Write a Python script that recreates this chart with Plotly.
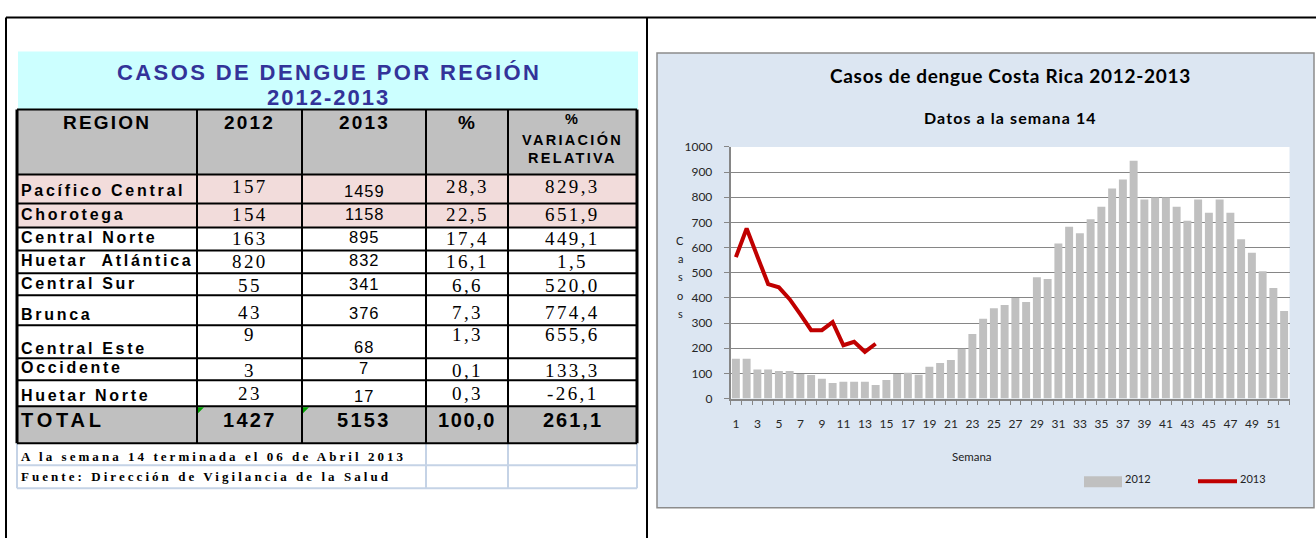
import plotly.graph_objects as go

W, H = 1316, 538

# ---------------- data ----------------
table_title_1 = "CASOS DE DENGUE POR REGIÓN"
table_title_2 = "2012-2013"
header_cols = ["REGION", "2012", "2013", "%"]
header_var = ["%", "VARIACIÓN", "RELATIVA"]
regiones = ["Pacífico Central", "Chorotega", "Central Norte", "Huetar  Atlántica",
            "Central Sur", "Brunca", "Central Este", "Occidente", "Huetar Norte"]
casos_2012_region = [157, 154, 163, 820, 55, 43, 9, 3, 23]
casos_2013_region = [1459, 1158, 895, 832, 341, 376, 68, 7, 17]
porcentaje = [28.3, 22.5, 17.4, 16.1, 6.6, 7.3, 1.3, 0.1, 0.3]
variacion = [829.3, 651.9, 449.1, 1.5, 520.0, 774.4, 655.6, 133.3, -26.1]
total_label = "TOTAL"
total_2012 = 1427
total_2013 = 5153
total_pct = 100.0
total_var = 261.1
footer_lines = ["A la semana 14 terminada el 06 de Abril 2013",
                "Fuente: Dirección de Vigilancia de la Salud"]

chart_title = "Casos de dengue Costa Rica 2012-2013"
chart_subtitle = "Datos a la semana 14"
y_title = "Casos"
x_title = "Semana"
semanas = list(range(1, 53))
casos_2012_semana = [158, 158, 116, 116, 110, 110, 98, 94, 79, 62,
                     67, 67, 67, 54, 74, 98, 103, 95, 127, 141,
                     153, 198, 257, 317, 359, 372, 400, 384, 482, 475,
                     616, 683, 657, 713, 762, 835, 871, 945, 791, 799,
                     799, 762, 707, 791, 738, 791, 738, 633, 580, 506,
                     439, 348]
semanas_2013 = list(range(1, 15))
casos_2013_semana = [562, 676, 565, 455, 442, 395, 335, 272, 272, 304,
                     212, 226, 186, 218]
x_tick_vals = list(range(1, 52, 2))
series_names = ["2012", "2013"]

# ---------------- layout helpers (pixel -> paper) ----------------
def fx(px):
    return px / W


def fy(py):
    # vertical pixel target -> paper fraction (with calibration of the rendered page)
    p = (py - 7.5) / 0.9726
    return 1 - p / H


shapes = []
annotations = []


def rect(x0, y0, x1, y1, fill, line_color=None, lw=0, layer="below"):
    shapes.append(dict(type="rect", xref="paper", yref="paper",
                       x0=fx(x0), x1=fx(x1), y0=fy(y1), y1=fy(y0),
                       fillcolor=fill,
                       line=dict(color=line_color or fill, width=lw),
                       layer=layer))


def seg(x0, y0, x1, y1, color, lw, layer="above"):
    shapes.append(dict(type="line", xref="paper", yref="paper",
                       x0=fx(x0), x1=fx(x1), y0=fy(y0), y1=fy(y1),
                       line=dict(color=color, width=lw), layer=layer))


def txt(x, y, s, size, family="Liberation Sans", color="black", weight="normal",
        xanchor="center", yanchor="middle", ls=0):
    if ls:
        s = f'<span style="letter-spacing:{ls}px">{s}</span>'
    annotations.append(dict(xref="paper", yref="paper", x=fx(x), y=fy(y), text=s,
                            showarrow=False, xanchor=xanchor, yanchor=yanchor,
                            borderpad=0,
                            font=dict(size=size, family=family, color=color,
                                      weight=weight)))


def fmt1(v):
    return f"{v:.1f}".replace(".", ",")


SANS = "Liberation Sans"
SERIF = "Liberation Serif"
CAL = "Lato"

# ---------------- outer frame ----------------
seg(6, 17, 1316, 17, "black", 2)
seg(6, 17, 6, 545, "black", 2)
seg(647, 17, 647, 545, "black", 2)

# ---------------- table ----------------
COL = [17, 197, 302, 426, 508, 637]
ROW = [174, 203, 227, 250, 273, 295, 325, 358, 380, 406]
HEAD = (109, 174)
TOT = (406, 443)
FOOT = [443, 465, 488]

rect(18, 51, 638, HEAD[0], "#ccffff")
rect(COL[0], HEAD[0], COL[-1], HEAD[1], "#c0c0c0")
for i in range(2):
    rect(COL[0], ROW[i], COL[-1], ROW[i + 1], "#f2dcdb")
rect(COL[0], TOT[0], COL[-1], TOT[1], "#c0c0c0")

# footer cells
for yv in FOOT[1:]:
    seg(COL[0], yv, COL[-1], yv, "#c5d3e6", 2)
for xv in [COL[0], COL[3], COL[4], COL[5]]:
    seg(xv, FOOT[0], xv, FOOT[-1], "#c5d3e6", 2)

# black grid
for yv in [HEAD[0]] + ROW + [TOT[1]]:
    seg(COL[0], yv, COL[-1], yv, "black", 2)
for xv in COL:
    seg(xv, HEAD[0], xv, TOT[1], "black", 3 if xv in (COL[0], COL[-1]) else 2)

# green error markers in TOTAL row
for xv in (COL[1], COL[2]):
    shapes.append(dict(type="path", xref="paper", yref="paper",
                       path=f"M {fx(xv + 1)},{fy(TOT[0] + 1)} L {fx(xv + 7)},{fy(TOT[0] + 1)} L {fx(xv + 1)},{fy(TOT[0] + 7)} Z",
                       fillcolor="#00a000", line=dict(width=0), layer="above"))

# title
txt(329, 72, table_title_1, 22, SANS, "#333399", "bold", ls=2.4)
txt(328, 97, table_title_2, 22, SANS, "#333399", "bold", ls=2.0)

# header
for j, h in enumerate(header_cols):
    cx = (COL[j] + COL[j + 1]) / 2
    txt(cx, 122, h, 19, SANS, "black", "bold", ls=2.2)
for k, (h, yv) in enumerate(zip(header_var, [119, 139, 158])):
    txt((COL[4] + COL[5]) / 2, yv, h, 14.5, SANS, "black", "bold", ls=2.3)

# body
REG_Y = [190, 214, 237, 260, 283, 314, 348, 367, 395]
NUM_Y = [186, 214, 238, 261, 285, 312, 334, 370, 393]
S13_Y = [191, 214, 237, 260, 284, 313, 347, 368, 396]
for i in range(len(regiones)):
    txt(20, REG_Y[i], regiones[i], 16, SANS, "black", "bold", xanchor="left", ls=2.7)
    txt((COL[1] + COL[2]) / 2, NUM_Y[i], str(casos_2012_region[i]), 19, SERIF, ls=2.4)
    txt((COL[2] + COL[3]) / 2, S13_Y[i], str(casos_2013_region[i]), 16.5, SANS, ls=1.0)
    txt((COL[3] + COL[4]) / 2, NUM_Y[i], fmt1(porcentaje[i]), 19, SERIF, ls=2.4)
    txt((COL[4] + COL[5]) / 2, NUM_Y[i], fmt1(variacion[i]), 19, SERIF, ls=2.4)

# total row
txt(20, 420, total_label, 20, SANS, "black", "bold", xanchor="left", ls=3.8)
txt((COL[1] + COL[2]) / 2, 420, str(total_2012), 20, SANS, "black", "bold", ls=2.3)
txt((COL[2] + COL[3]) / 2, 420, str(total_2013), 20, SANS, "black", "bold", ls=2.3)
txt((COL[3] + COL[4]) / 2, 420, fmt1(total_pct), 20, SANS, "black", "bold", ls=1.6)
txt((COL[4] + COL[5]) / 2, 420, fmt1(total_var), 20, SANS, "black", "bold", ls=2.0)

# footer text
txt(20, 456, footer_lines[0], 13, SERIF, "black", "bold", xanchor="left", ls=3.05)
txt(20, 476, footer_lines[1], 13, SERIF, "black", "bold", xanchor="left", ls=3.05)

# ---------------- chart panel ----------------
rect(657, 52.5, 1314, 507.5, "#dce6f2", "#8c8c8c", 1.5)
shapes.append(dict(type="rect", xref="x domain", yref="y domain", x0=0, x1=1, y0=0, y1=1,
                   fillcolor="white", line=dict(width=0), layer="below"))

txt(1011, 75, chart_title, 19, CAL, "black", "bold", ls=0.7)
txt(1010, 117, chart_subtitle, 16, CAL, "black", "bold", ls=1.1)
for k, ch in enumerate(y_title):
    txt(680, 240 + k * 18.3, ch, 11, CAL, "#222222")
txt(972, 456, x_title, 11.5, CAL, "#222222")

# manual legend
rect(1084, 476, 1122, 487, "#c0c0c0")
txt(1124, 478, series_names[0], 11, CAL, "#222222", xanchor="left")
seg(1198, 481, 1237, 481, "#c00000", 4)
txt(1239, 478, series_names[1], 11, CAL, "#222222", xanchor="left")

fig = go.Figure()
fig.add_trace(go.Bar(x=semanas, y=casos_2012_semana, name=series_names[0],
                     marker=dict(color="#c0c0c0", line=dict(width=0)),
                     showlegend=False))
fig.add_trace(go.Scatter(x=semanas_2013, y=casos_2013_semana, name=series_names[1],
                         mode="lines", line=dict(color="#c00000", width=4),
                         showlegend=False))

fig.update_layout(
    width=W, height=H,
    margin=dict(l=0, r=0, t=0, b=0),
    paper_bgcolor="white", plot_bgcolor="white",
    bargap=0.26,
    shapes=shapes, annotations=annotations,
    showlegend=False,
    xaxis=dict(domain=[fx(730.5), fx(1289.5)], range=[0.5, 52.5],
               tickmode="array", tickvals=x_tick_vals,
               ticktext=[str(v) for v in x_tick_vals],
               ticks="", showgrid=False, zeroline=False,
               showline=True, linecolor="#868686", linewidth=1.5,
               tickfont=dict(family=CAL, size=12, color="#262626"),
               ticklabelstandoff=13,
               minor=dict(tickmode="array",
                          tickvals=[v + 0.5 for v in range(0, 53)],
                          ticks="outside", ticklen=5, tickwidth=1,
                          tickcolor="#868686", showgrid=False)),
    yaxis=dict(domain=[fy(398.3), fy(146.5)], range=[0, 1000],
               tickmode="linear", tick0=0, dtick=100,
               showgrid=True, gridcolor="#868686", gridwidth=1.3,
               zeroline=False, showline=True, linecolor="#868686", linewidth=1.5,
               ticks="outside", ticklen=5, tickcolor="#868686",
               tickfont=dict(family=CAL, size=12, color="#262626"),
               ticklabelstandoff=9),
)

fig.write_html(
    "out.html",
    config={"displayModeBar": False},
    post_script=("var gd=document.getElementById('{plot_id}');"
                 "document.documentElement.style.margin='0';"
                 "document.body.style.margin='0';document.body.style.overflow='hidden';"
                 "gd.style.position='fixed';gd.style.top='0px';gd.style.left='0px';"),
)
